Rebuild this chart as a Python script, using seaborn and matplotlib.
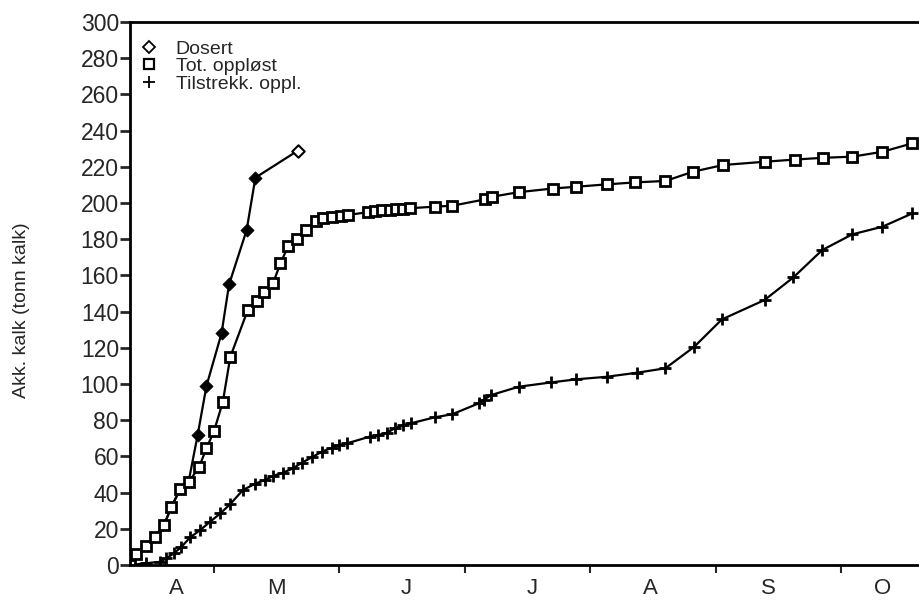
import numpy as np
import pandas as pd
import matplotlib
matplotlib.use("Agg")
import matplotlib.pyplot as plt
from matplotlib.lines import Line2D
import seaborn as sns

# Tid i måneder (4 = 1. april, 5 = 1. mai, ...), verdier i tonn kalk
dosert_x = [4.33, 4.38, 4.46, 4.53, 4.60, 4.66, 4.73, 4.80, 4.87, 4.94, 5.06, 5.12, 5.26, 5.33, 5.67]
dosert_y = [0, 6, 10.5, 15.7, 22, 32, 42, 47, 72, 99, 128, 155, 185, 214, 229]

tot_x = [4.33, 4.38, 4.46, 4.53, 4.60, 4.66, 4.73, 4.80, 4.88, 4.94, 5.00, 5.07, 5.13,
         5.27, 5.34, 5.40, 5.47, 5.53, 5.59, 5.66, 5.73, 5.81, 5.87, 5.94, 6.01, 6.07,
         6.23, 6.28, 6.34, 6.40, 6.45, 6.51, 6.56, 6.76, 6.90, 7.16, 7.22, 7.43, 7.70,
         7.89, 8.13, 8.36, 8.60, 8.82, 9.06, 9.39, 9.63, 9.86, 10.09, 10.33, 10.57]
tot_y = [0, 6, 10.5, 15.7, 22, 32, 42, 46, 54, 64.5, 74, 90, 115,
         141, 146, 151, 155.6, 166.7, 176, 180, 185, 190, 191.5, 192.4, 192.8, 193.4,
         195, 195.5, 196, 196.3, 196.6, 196.8, 197.1, 198, 198.5, 202, 203.5, 206, 208,
         209, 210.3, 211.4, 212.2, 217.3, 221, 222.8, 224, 225, 225.6, 228.3, 233]

tilstr_x = [4.33, 4.46, 4.57, 4.62, 4.68, 4.74, 4.81, 4.89, 4.97, 5.05, 5.13, 5.23, 5.33,
            5.41, 5.47, 5.55, 5.63, 5.70, 5.78, 5.86, 5.94, 6.00, 6.06, 6.24, 6.31, 6.38,
            6.44, 6.51, 6.57, 6.76, 6.90, 7.11, 7.15, 7.21, 7.43, 7.69, 7.89, 8.13, 8.37,
            8.60, 8.83, 9.05, 9.39, 9.62, 9.85, 10.09, 10.33, 10.57]
tilstr_y = [0, 1, 1.8, 3.7, 6.5, 10, 15.3, 19.3, 24, 28.5, 33.7, 41.4, 45,
            47, 49.2, 51, 53.4, 56.5, 59.5, 62.6, 64.8, 66.3, 67.2, 70.9, 71.8, 73.1,
            75.5, 77.3, 78.3, 81.6, 83.3, 89.3, 91.2, 93.9, 98.5, 100.9, 102.6, 104, 106.2,
            108.7, 120.6, 135.7, 146.4, 158.9, 174, 182.7, 186.9, 194.3]

month_ticks = [5, 6, 7, 8, 9, 10]
month_label_pos = [4.70, 5.50, 6.53, 7.54, 8.48, 9.42, 10.33]
month_labels = ["A", "M", "J", "J", "A", "S", "O"]

sns.set_style("ticks")
plt.rcParams["font.family"] = ["Liberation Sans", "DejaVu Sans"]

fig = plt.figure(figsize=(9.2, 6), dpi=100)
ax = fig.add_axes([0.1413, 0.0583, 0.8587, 0.905])

# Dosert: linje gjennom alle punkter, markører bare der kurven skiller seg fra "Tot."
sns.lineplot(x=dosert_x, y=dosert_y, ax=ax, color="black", lw=1.6, estimator=None, sort=False)

sns.lineplot(x=tilstr_x, y=tilstr_y, ax=ax, color="black", lw=1.6, estimator=None, sort=False,
             marker="+", markersize=8, markeredgewidth=2, markeredgecolor="black")
sns.lineplot(x=tot_x, y=tot_y, ax=ax, color="black", lw=1.6, estimator=None, sort=False,
             marker="s", markersize=6.5, markerfacecolor="white", markeredgewidth=2,
             markeredgecolor="black")

sns.scatterplot(x=dosert_x[8:-1], y=dosert_y[8:-1], ax=ax, marker="D", s=45,
                color="black", edgecolor="black", zorder=5)
sns.scatterplot(x=dosert_x[-1:], y=dosert_y[-1:], ax=ax, marker="D", s=40,
                facecolor="white", edgecolor="black", linewidth=1.5, zorder=5)

ax.set_xlim(4.33, 10.63)
ax.set_ylim(0, 300)
ax.set_yticks(range(0, 301, 20))
ax.set_xticks(month_ticks)
ax.set_xticklabels([])
ax.set_xticks(month_label_pos, minor=True)
ax.set_xticklabels(month_labels, minor=True)
ax.tick_params(axis="x", which="minor", length=0, pad=9, labelsize=16)
ax.tick_params(axis="x", which="major", direction="out", length=6, width=1.5)
ax.tick_params(axis="y", direction="out", length=7, width=2, labelsize=16.5, pad=1)

for side in ["left", "bottom", "top"]:
    ax.spines[side].set_linewidth(2)
    ax.spines[side].set_color("black")
ax.spines["right"].set_visible(False)

ax.set_ylabel("Akk. kalk (tonn kalk)", fontsize=14)
ax.yaxis.set_label_coords(-0.127, 0.47)

handles = [
    Line2D([], [], ls="none", marker="D", markersize=6, mfc="white", mec="black", mew=1.3),
    Line2D([], [], ls="none", marker="s", markersize=7, mfc="white", mec="black", mew=1.6),
    Line2D([], [], ls="none", marker="+", markersize=9, mec="black", mew=1.3),
]
ax.legend(handles, ["Dosert", "Tot. oppløst", "Tilstrekk. oppl."], loc="upper left",
          bbox_to_anchor=(-0.006, 0.992), frameon=False, fontsize=14, handlelength=1.0,
          handletextpad=0.9, labelspacing=0.0, borderaxespad=0.3)

fig.savefig("out.png", dpi=100)
